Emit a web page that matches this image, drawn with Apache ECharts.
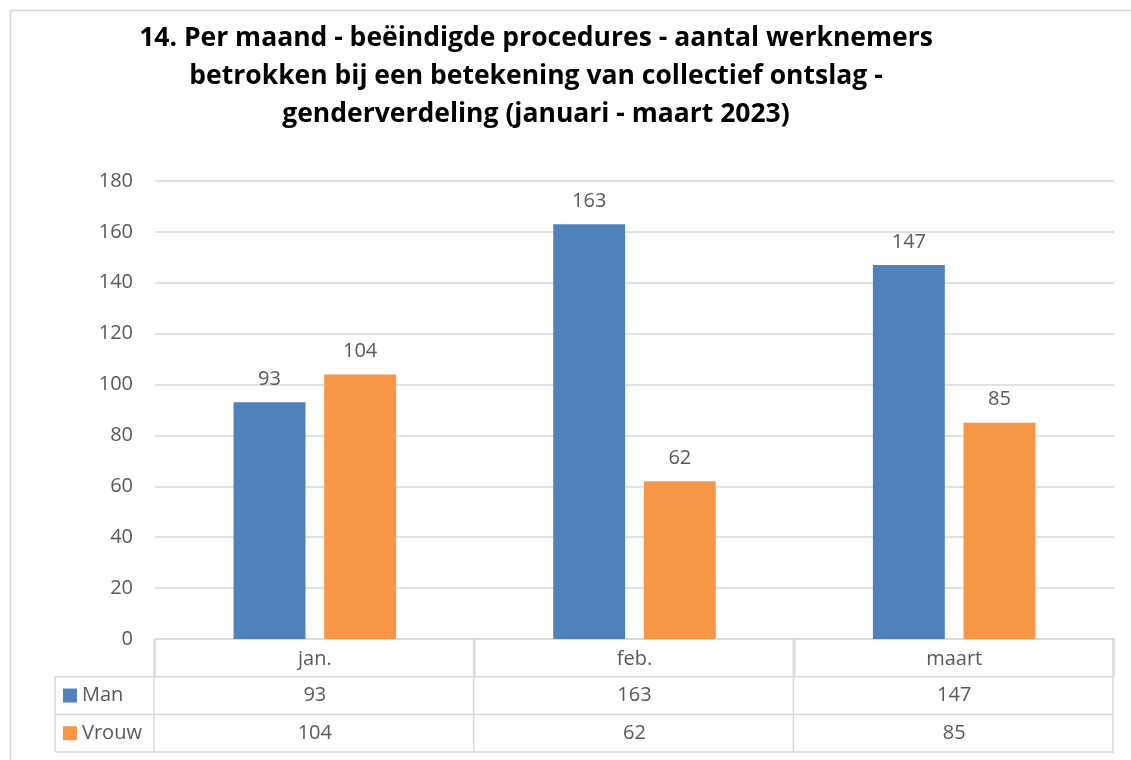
<!DOCTYPE html>
<html>
<head>
    <meta charset="UTF-8">
    <title>Beëindigde procedures - genderverdeling</title>
    <script src="https://cdn.jsdelivr.net/npm/echarts@6/dist/echarts.min.js"></script>
    <style>
        html, body { margin: 0; padding: 0; background: #fff; }
        #chart { width: 1131px; height: 760px; }
    </style>
</head>
<body>
<div id="chart"></div>
<script type="text/javascript">
    // data
    var months = ['jan.', 'feb.', 'maart'];
    var man = [93, 163, 147];
    var vrouw = [104, 62, 85];
    var seriesNames = ['Man', 'Vrouw'];
    var colors = ['#4f81bd', '#f79646'];

    var FONT = "'Open Sans', 'Noto Sans', sans-serif";
    var TXT = '#595959';
    var LINE = '#d9d9d9';

    // plot area (px)
    var G = {left: 155, right: 1114, top: 181, bottom: 639};
    var rowH = 37.7;

    var chart = echarts.init(document.getElementById('chart'));

    // table below the plot: lines + texts, built from the arrays
    function tableGraphics() {
        var els = [];
        var colW = (G.right - G.left) / months.length;
        var yHead = G.bottom, y1 = G.bottom + rowH, y2 = G.bottom + 2 * rowH, y3 = G.bottom + 3 * rowH;
        var ls = {stroke: LINE, lineWidth: 1.5};
        // outer frame of chart
        els.push({type: 'rect', shape: {x: 10.5, y: 10.5, width: 1140, height: 760}, style: {fill: null, stroke: LINE, lineWidth: 1.5}, silent: true});
        // horizontal lines
        els.push({type: 'line', shape: {x1: 55, y1: y1, x2: G.right, y2: y1}, style: ls});
        els.push({type: 'line', shape: {x1: 55, y1: y2, x2: G.right, y2: y2}, style: ls});
        els.push({type: 'line', shape: {x1: 55, y1: y3, x2: G.right, y2: y3}, style: ls});
        // vertical lines
        els.push({type: 'line', shape: {x1: 55, y1: y1, x2: 55, y2: y3}, style: ls});
        for (var i = 0; i <= months.length; i++) {
            var x = G.left - 1 + i * colW;
            els.push({type: 'line', shape: {x1: x, y1: yHead, x2: x, y2: y3}, style: ls});
        }
        var rows = [man, vrouw];
        rows.forEach(function (vals, r) {
            var yc = y1 + r * rowH + rowH / 2;
            els.push({type: 'rect', shape: {x: 63, y: yc - 7, width: 14, height: 14}, style: {fill: colors[r]}});
            els.push({type: 'text', x: 82, y: yc, style: {text: seriesNames[r], font: '20px ' + FONT, fill: TXT, verticalAlign: 'middle', textAlign: 'left'}});
            vals.forEach(function (v, c) {
                els.push({type: 'text', x: G.left + (c + 0.5) * colW, y: yc, style: {text: String(v), font: '20px ' + FONT, fill: TXT, verticalAlign: 'middle', textAlign: 'center'}});
            });
        });
        return els;
    }

    function barSeries(name, data, color) {
        return {
            name: name,
            type: 'bar',
            data: data,
            barWidth: '22.5%',
            barGap: '26%',
            itemStyle: {color: color},
            label: {
                show: true,
                position: 'top',
                distance: 13,
                color: TXT,
                fontFamily: FONT,
                fontSize: 20
            }
        };
    }

    chart.setOption({
        animation: false,
        textStyle: {fontFamily: FONT},
        title: {
            text: '14. Per maand - beëindigde procedures - aantal werknemers\nbetrokken bij een betekening van collectief ontslag -\ngenderverdeling (januari - maart 2023)',
            left: 531,
            top: 14,
            textAlign: 'center',
            textStyle: {
                fontFamily: FONT,
                fontWeight: 'bold',
                fontSize: 26.5,
                lineHeight: 38,
                color: '#000'
            }
        },
        grid: {
            left: G.left,
            right: 1131 - G.right,
            top: G.top,
            bottom: 760 - G.bottom,
            containLabel: false
        },
        xAxis: {
            type: 'category',
            data: months,
            axisLine: {lineStyle: {color: LINE, width: 1.5}},
            axisTick: {show: true, alignWithLabel: false, length: rowH, inside: false, lineStyle: {color: LINE, width: 1.5}},
            axisLabel: {color: TXT, fontSize: 20, fontFamily: FONT, margin: 10}
        },
        yAxis: {
            type: 'value',
            min: 0,
            max: 180,
            interval: 20,
            axisLine: {show: false},
            axisTick: {show: false},
            axisLabel: {color: TXT, fontSize: 20, fontFamily: FONT, margin: 22},
            splitLine: {lineStyle: {color: LINE, width: 1.5}}
        },
        series: [
            barSeries(seriesNames[0], man, colors[0]),
            barSeries(seriesNames[1], vrouw, colors[1])
        ],
        graphic: tableGraphics()
    });
</script>
</body>
</html>
